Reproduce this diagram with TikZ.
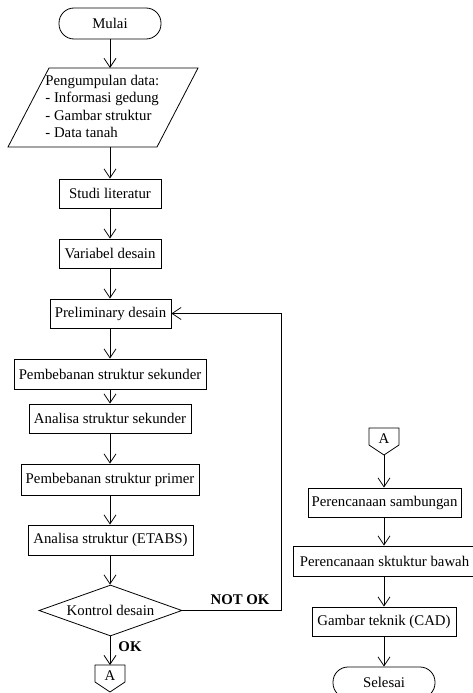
\documentclass[tikz,border=0pt]{standalone}
\usepackage{fontspec}
\setmainfont{Liberation Serif}
\usetikzlibrary{arrows.meta,shapes.geometric}
\begin{document}
\begin{tikzpicture}[x=1pt,y=-1pt,
  font=\fontsize{14.8}{17.6}\selectfont,
  line width=0.8pt,
  box/.style={draw, rectangle, inner sep=0pt, minimum height=29pt},
  term/.style={draw, rectangle, rounded corners=15pt, inner sep=0pt, minimum width=102pt, minimum height=31pt},
  arr/.style={-{Straight Barb[length=9pt,width=12pt,line width=0.8pt]}},
  lbl/.style={font=\fontsize{14.8}{17.6}\selectfont\bfseries, inner sep=0pt}
]
\useasboundingbox (0,0) rectangle (472,693);

% left column
\node[term] (mulai) at (110,23.5) {Mulai};
\draw (49,68) -- (198,68) -- (157,147) -- (8,147) -- cycle;
\coordinate (dtop) at (110,68);
\coordinate (dbot) at (110,147);
\node[anchor=west, align=left, inner sep=0pt] (data) at (45,106.5) {Pengumpulan data:\\- Informasi gedung\\- Gambar struktur\\- Data tanah};
\node[box, minimum width=102pt] (studi) at (110,193.5) {Studi literatur};
\node[box, minimum width=102pt] (var) at (110,253.5) {Variabel desain};
\node[box, minimum width=121pt] (prelim) at (110.5,313.5) {Preliminary desain};
\node[box, minimum width=192pt, minimum height=30pt] (pss) at (110,374) {Pembebanan struktur sekunder};
\node[box, minimum width=162pt] (ass) at (110,418.5) {Analisa struktur sekunder};
\node[box, minimum width=178pt, minimum height=31pt] (psp) at (110,479.5) {Pembebanan struktur primer};
\node[box, minimum width=165pt, minimum height=30pt] (ase) at (110.5,540) {Analisa struktur (ETABS)};
\node[draw, diamond, shape aspect=2.8, inner sep=0pt, minimum width=143pt, minimum height=51pt] (kontrol) at (110.5,610.5) {\parbox[c][14pt][c]{96pt}{\centering Kontrol desain}};
\draw (95,665) -- (125,665) -- (125,682) -- (110,692) -- (95,682) -- cycle;
\coordinate (atop1) at (110,665);
\node[inner sep=0pt] (a1) at (110,676) {A};

\draw[arr] (mulai) -- (dtop);
\draw[arr] (dbot) -- (studi);
\draw[arr] (studi) -- (var);
\draw[arr] (var) -- (var |- prelim.north);
\draw[arr] (prelim.south -| var) -- (pss);
\draw[arr] (pss) -- (ass);
\draw[arr] (ass) -- (psp);
\draw[arr] (psp) -- (psp |- ase.north);
\draw[arr] (ase.south -| psp) -- (kontrol.north -| psp);
\draw[arr] (kontrol.south -| psp) -- (atop1);
\coordinate (loopc) at (281,610.5);
\draw[arr] (kontrol.east) -- (loopc) |- (prelim.east);
\node[lbl] (notok) at (240,600) {NOT OK};
\node[lbl] (ok) at (130,647) {OK};

% right column
\draw (369,428) -- (399,428) -- (399,445) -- (384,455) -- (369,445) -- cycle;
\node[inner sep=0pt] (a2) at (384,439) {A};
\coordinate (abot2) at (384,455);
\node[box, minimum width=153pt] (sambung) at (384.5,502.5) {Perencanaan sambungan};
\node[box, minimum width=183pt, minimum height=30pt] (bawah) at (384.5,561) {Perencanaan sktuktur bawah};
\node[box, minimum width=144pt] (cad) at (384,621.5) {Gambar teknik (CAD)};
\node[term] (selesai) at (384,682.5) {Selesai};

\draw[arr] (abot2) -- (abot2 |- sambung.north);
\draw[arr] (sambung.south -| abot2) -- (bawah.north -| abot2);
\draw[arr] (bawah.south -| abot2) -- (cad.north -| abot2);
\draw[arr] (cad) -- (selesai);
\end{tikzpicture}
\end{document}
